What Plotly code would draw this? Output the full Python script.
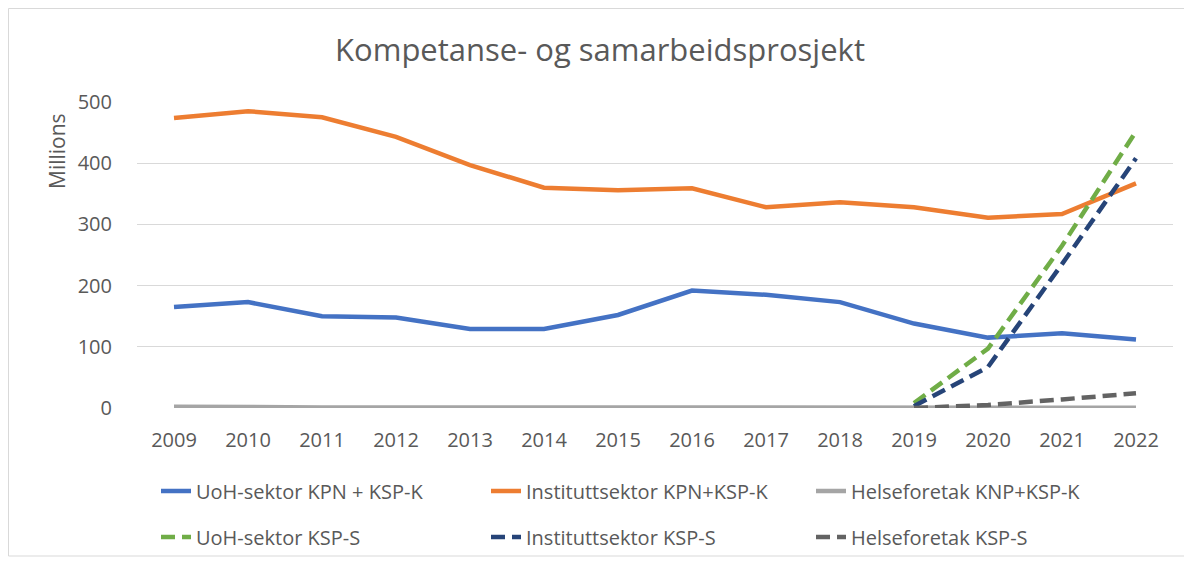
import plotly.graph_objects as go

years = [str(y) for y in range(2009, 2023)]
uoh_kpn = [165, 173, 150, 148, 129, 129, 152, 192, 185, 173, 138, 115, 122, 112]
inst_kpn = [474, 485, 475, 443, 397, 360, 356, 359, 328, 336, 328, 311, 317, 367]
helse_kpn = [2, 1, 1, 1, 1, 0.5, 0.5, 0.5, 0.5, 0.5, 0.5, 0.5, 0.5, 0.5]
uoh_s = [None] * 10 + [8, 97, 265, 452]
inst_s = [None] * 10 + [3, 67, 235, 408]
helse_s = [None] * 10 + [0, 5, 14, 24]

names = ["UoH-sektor KPN + KSP-K", "Instituttsektor KPN+KSP-K", "Helseforetak KNP+KSP-K",
         "UoH-sektor KSP-S", "Instituttsektor KSP-S", "Helseforetak KSP-S"]
series = [uoh_kpn, inst_kpn, helse_kpn, uoh_s, inst_s, helse_s]
colors = ["#4472C4", "#ED7D31", "#A5A5A5", "#70AD47", "#264478", "#636363"]
dashes = ["solid", "solid", "solid", "14px,7px", "14px,7px", "14px,7px"]
legend_ids = ["legend", "legend2", "legend3", "legend4", "legend5", "legend6"]

W, H = 1192, 563
OFF = 8  # page body margin offset
L, R, T, B = 137 - OFF, 1173 - OFF, 102 - OFF, 408 - OFF
pw, ph = R - L, B - T

def px(x):
    return (x - OFF - L) / pw

def py(y):
    return (B - (y - OFF)) / ph

fig = go.Figure()
for name, vals, c, d, lg in zip(names, series, colors, dashes, legend_ids):
    fig.add_trace(go.Scatter(x=years, y=vals, name=name, mode="lines",
                             line=dict(color=c, width=4.5, dash=d),
                             legend=lg, connectgaps=False))

font_color = "#595959"
fam = "Open Sans"
legend_common = dict(orientation="h", font=dict(family=fam, size=20, color=font_color),
                     xanchor="left", yanchor="middle", bgcolor="rgba(0,0,0,0)",
                     borderwidth=0)

col_x = [156, 486, 811]
row_y = [491, 537]
legend_layout = {}
for i, lg in enumerate(legend_ids):
    legend_layout[lg] = dict(x=px(col_x[i % 3]), y=py(row_y[i // 3]), **legend_common)

fig.update_layout(
    width=W, height=H,
    margin=dict(l=L, r=W - R, t=T, b=H - B, autoexpand=False),
    paper_bgcolor="white", plot_bgcolor="white",
    title=dict(text="Kompetanse- og samarbeidsprosjekt", x=(600 - OFF) / W, xref="container",
               xanchor="center", y=1 - (50 - OFF) / H, yref="container", yanchor="middle",
               font=dict(family=fam, size=31, color=font_color)),
    xaxis=dict(type="category", range=[-0.5, 13.5], showgrid=False, showline=False,
               zeroline=False, ticks="", ticklabelstandoff=18,
               tickfont=dict(family=fam, size=20, color=font_color)),
    yaxis=dict(range=[0, 500], tickvals=[0, 100, 200, 300, 400, 500], showgrid=True,
               gridcolor="#D9D9D9", gridwidth=1, zeroline=False, showline=False,
               ticks="", ticklabelstandoff=24,
               tickfont=dict(family=fam, size=20, color=font_color)),
    showlegend=True,
    annotations=[dict(text="Millions", x=px(57), y=py(151), xref="paper", yref="paper",
                      textangle=-90, showarrow=False, xanchor="center", yanchor="middle",
                      font=dict(family=fam, size=21, color=font_color))],
    shapes=[dict(type="rect", xref="paper", yref="paper", x0=px(8.5), x1=px(1185),
                 y0=py(556), y1=py(8.5), line=dict(color="#D9D9D9", width=1),
                 layer="below")],
    **legend_layout,
)

fig.write_html("out.html")
